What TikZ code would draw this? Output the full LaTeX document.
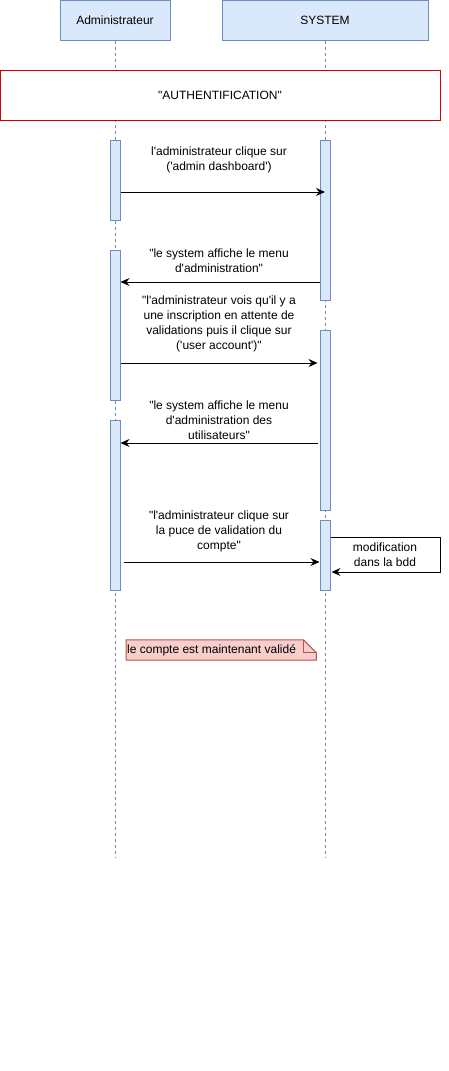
\documentclass[tikz,border=0pt]{standalone}
\usepackage{xcolor}
\usepackage{fontspec}
\setmainfont{Liberation Sans}[Ligatures=TeXOff]
\usetikzlibrary{arrows.meta}

\definecolor{boxblue}{HTML}{DAE8FC}
\definecolor{edgeblue}{HTML}{6C8EBF}
\definecolor{notered}{HTML}{F8CECC}
\definecolor{noteedge}{HTML}{B85450}
\definecolor{framered}{HTML}{CC0000}

\tikzset{
  actor/.style={draw=edgeblue, fill=boxblue, line width=1pt, minimum height=40pt, font=\fontsize{12}{14}\selectfont},
  act/.style={draw=edgeblue, fill=boxblue, line width=1pt, minimum width=10pt, inner sep=0pt},
  lifeline/.style={draw=edgeblue!80!gray, line width=0.8pt, dash pattern=on 3pt off 3pt},
  msg/.style={draw=black, line width=1pt, -{Stealth[length=9pt, width=8pt, inset=3pt]}},
  msgtext/.style={align=center, inner sep=0pt}
}

\begin{document}
\begin{tikzpicture}[x=1pt, y=-1pt, every node/.style={font=\fontsize{12}{15}\selectfont}]
    \useasboundingbox (0,0) rectangle (449,1071);

    % Actors
    \node[actor, minimum width=110pt] (admin) at (115,20) {Administrateur};
    \node[actor, minimum width=206pt] (system) at (325,20) {SYSTEM};

    % Lifelines
    \coordinate (adminend) at (115,858);
    \coordinate (systemend) at (325,858);
    \draw[lifeline] (admin.south) -- (adminend);
    \draw[lifeline] (system.south) -- (systemend);

    % Frame
    \node[draw=framered, fill=white, line width=1pt, minimum width=440pt, minimum height=50pt, font=\fontsize{12}{14}\selectfont] (auth) at (220,95) {"AUTHENTIFICATION"};

    % Activations
    \node[act, minimum height=80pt] (a1) at (115,180) {};
    \node[act, minimum height=150pt] (a2) at (115,325) {};
    \node[act, minimum height=170pt] (a3) at (115,505) {};
    \node[act, minimum height=160pt] (s1) at (325,220) {};
    \node[act, minimum height=180pt] (s2) at (325,420) {};
    \node[act, minimum height=70pt] (s3) at (325,555) {};

    % Message levels
    \coordinate (y1) at (0,192);
    \coordinate (y2) at (0,282);
    \coordinate (y3) at (0,363);
    \coordinate (y4) at (0,443);
    \coordinate (y5) at (0,562);
    \coordinate (selftop) at (440,537);
    \coordinate (selfbot) at (440,572);

    % Messages
    \draw[msg] (a1.east |- y1) -- (s1.center |- y1);
    \node[msgtext] (t1) at (219,160) {l'administrateur clique sur\\('admin dashboard')};

    \draw[msg] (s1.west |- y2) -- (a2.east |- y2);
    \node[msgtext] (t2) at (219,261) {"le system affiche le menu\\d'administration"};

    \draw[msg] (a2.east |- y3) -- ([xshift=-2pt]s2.west |- y3);
    \node[msgtext] (t3) at (219,324) {"l'administrateur vois qu'il y a\\une inscription en attente de\\validations puis il clique sur\\('user account')"};

    \draw[msg] ([xshift=-2pt]s2.west |- y4) -- (a3.east |- y4);
    \node[msgtext] (t4) at (219,420) {"le system affiche le menu\\d'administration des\\utilisateurs"};

    \draw[msg] ([xshift=3pt]a3.east |- y5) -- (s3.west |- y5);
    \node[msgtext] (t5) at (219,531) {"l'administrateur clique sur\\la puce de validation du\\compte"};

    % Self message
    \draw[msg] (s3.east |- selftop) -- (selftop) -- (selfbot) -- ([xshift=1pt]s3.east |- selfbot);
    \node[msgtext] (t6) at (385,555) {modification\\dans la bdd};

    % Note
    \node[anchor=west, text width=186pt, align=left, minimum height=20pt, inner sep=2pt] (note) at (126,650) {};
    \filldraw[fill=notered, draw=noteedge, line width=1pt] (note.north west) -- ([xshift=-13pt]note.north east) -- ([yshift=-13pt]note.north east) -- (note.south east) -- (note.south west) -- cycle;
    \draw[draw=noteedge, line width=1pt] ([xshift=-13pt]note.north east) -- ([xshift=-13pt, yshift=-13pt]note.north east) -- ([yshift=-13pt]note.north east);
    \node[anchor=west, inner sep=1pt] (notetext) at (note.west) {le compte est maintenant validé};
\end{tikzpicture}
\end{document}
